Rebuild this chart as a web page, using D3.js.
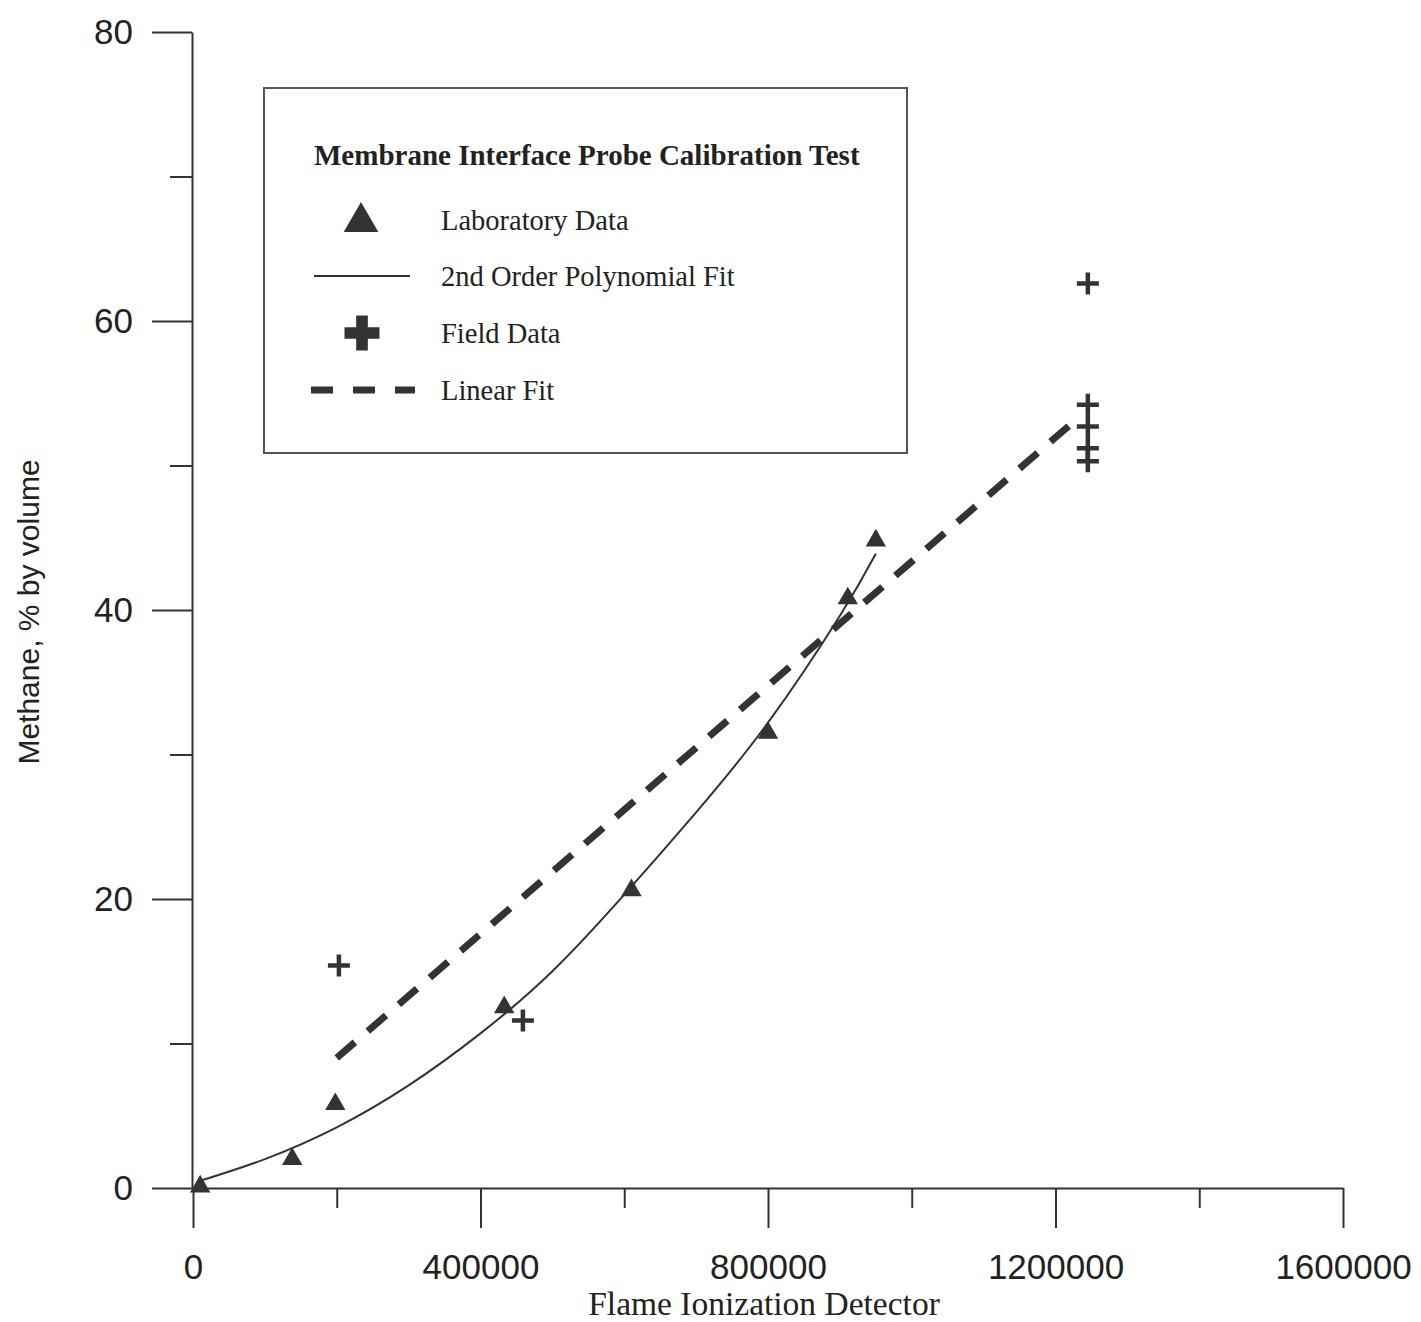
<!DOCTYPE html>
<html>
<head>
<meta charset="utf-8">
<script src="https://cdn.jsdelivr.net/npm/d3@7"></script>
<style>
	body { margin: 0; background: #fff; }
	svg { display: block; }
	.axis path, .axis line { stroke: #333; stroke-width: 2; }
	.axis text { font-family: 'Liberation Sans', Arial, sans-serif; font-size: 35px; fill: #222; }
	.title { font-family: 'Liberation Sans', Arial, sans-serif; font-size: 30px; fill: #222; }
	.xtitle { font-family: 'Liberation Serif', 'Times New Roman', serif; font-size: 33.5px; fill: #222; }
	.legend text { font-family: 'Liberation Serif', 'Times New Roman', serif; font-size: 28.5px; fill: #222; }
	.legend .head { font-weight: bold; font-size: 29px; }
</style>
</head>
<body>
<svg width="1421" height="1322"></svg>
<script>
// laboratory data (triangles)
const labX = [10000, 138000, 198000, 433000, 610000, 800000, 911000, 950000];
const labY = [0.1, 2.0, 5.8, 12.5, 20.6, 31.5, 40.8, 44.8];

// field data (crosses)
const fieldX = [203000, 459000, 1245000, 1245000, 1245000, 1245000, 1245000];
const fieldY = [15.4, 11.6, 62.6, 54.2, 52.7, 51.2, 50.3];

// 2nd order polynomial fit
const polyX = [10000, 100000, 200000, 300000, 400000, 500000, 600000, 700000, 800000, 900000, 950000];
const polyY = [0.5, 2.0, 4.2, 7.1, 10.7, 15.0, 20.3, 26.0, 32.2, 39.6, 43.9];

// linear fit
const linX = [200000, 1220000];
const linY = [9.0, 52.8];

const xMajor = [0, 400000, 800000, 1200000, 1600000];
const xMinor = [200000, 600000, 1000000, 1400000];
const yMajor = [0, 20, 40, 60, 80];
const yMinor = [10, 30, 50, 70];

const legendItems = ['Laboratory Data', '2nd Order Polynomial Fit', 'Field Data', 'Linear Fit'];

const $svg = d3.select('svg');
const INK = '#333';

const x = d3.scaleLinear().domain([0, 1600000]).range([193, 1343]);
const y = d3.scaleLinear().domain([0, 80]).range([1188, 32]);

// axes: major ticks long with labels, minor ticks short
$svg.append('g')
	.attr('class', 'axis')
	.attr('transform', `translate(0,${y(0)})`)
	.call(d3.axisBottom(x).tickValues(xMinor).tickSize(20).tickSizeOuter(0).tickFormat(''))
	.select('.domain').remove();

$svg.append('g')
	.attr('class', 'axis')
	.attr('transform', `translate(0,${y(0)})`)
	.call(d3.axisBottom(x).tickValues(xMajor).tickSize(40).tickSizeOuter(0).tickPadding(26).tickFormat(d3.format('d')));

$svg.append('g')
	.attr('class', 'axis')
	.attr('transform', `translate(${x(0) - 1},0)`)
	.call(d3.axisLeft(y).tickValues(yMinor).tickSize(22).tickSizeOuter(0).tickFormat(''))
	.select('.domain').remove();

$svg.append('g')
	.attr('class', 'axis')
	.attr('transform', `translate(${x(0) - 1},0)`)
	.call(d3.axisLeft(y).tickValues(yMajor).tickSize(40).tickSizeOuter(0).tickPadding(19));

$svg.selectAll('.axis .domain').attr('fill', 'none');

// axis titles
$svg.append('text')
	.attr('class', 'xtitle')
	.attr('x', 764)
	.attr('y', 1315)
	.attr('text-anchor', 'middle')
	.text('Flame Ionization Detector');

$svg.append('text')
	.attr('class', 'title')
	.attr('transform', 'translate(39,612) rotate(-90)')
	.attr('text-anchor', 'middle')
	.text('Methane, % by volume');

// fits
const polyData = polyX.map((d, i) => [d, polyY[i]]);
const linData = linX.map((d, i) => [d, linY[i]]);

$svg.append('path')
	.datum(polyData)
	.attr('d', d3.line().x(d => x(d[0])).y(d => y(d[1])).curve(d3.curveNatural))
	.attr('fill', 'none')
	.attr('stroke', INK)
	.attr('stroke-width', 2);

$svg.append('path')
	.datum(linData)
	.attr('d', d3.line().x(d => x(d[0])).y(d => y(d[1])))
	.attr('fill', 'none')
	.attr('stroke', INK)
	.attr('stroke-width', 7)
	.attr('stroke-dasharray', '24 17');

// laboratory triangles
const tri = d3.symbol(d3.symbolTriangle, 180);
$svg.append('g')
	.selectAll('path')
	.data(labX.map((d, i) => [d, labY[i]]))
	.join('path')
	.attr('d', tri)
	.attr('transform', d => `translate(${x(d[0])},${y(d[1])})`)
	.attr('fill', INK);

// field crosses
const CROSS = 11;
$svg.append('g')
	.selectAll('path')
	.data(fieldX.map((d, i) => [d, fieldY[i]]))
	.join('path')
	.attr('d', d => {
		const cx = x(d[0]), cy = y(d[1]);
		return `M${cx - CROSS},${cy}H${cx + CROSS}M${cx},${cy - CROSS}V${cy + CROSS}`;
	})
	.attr('stroke', INK)
	.attr('stroke-width', 4.5);

// legend
const $legend = $svg.append('g').attr('class', 'legend');

$legend.append('rect')
	.attr('x', 264)
	.attr('y', 88)
	.attr('width', 643)
	.attr('height', 365)
	.attr('fill', 'none')
	.attr('stroke', '#555')
	.attr('stroke-width', 2);

$legend.append('text')
	.attr('class', 'head')
	.attr('x', 314)
	.attr('y', 155)
	.attr('dy', '0.35em')
	.text('Membrane Interface Probe Calibration Test');

const rowY = [220, 276, 333, 390];

$legend.selectAll('text.item')
	.data(legendItems)
	.join('text')
	.attr('class', 'item')
	.attr('x', 441)
	.attr('y', (d, i) => rowY[i])
	.attr('dy', '0.35em')
	.text(d => d);

$legend.append('path')
	.attr('d', d3.symbol(d3.symbolTriangle, 520))
	.attr('transform', `translate(361,${rowY[0] + 2})`)
	.attr('fill', INK);

$legend.append('line')
	.attr('x1', 314).attr('x2', 410)
	.attr('y1', rowY[1]).attr('y2', rowY[1])
	.attr('stroke', INK)
	.attr('stroke-width', 2);

$legend.append('path')
	.attr('d', d3.symbol(d3.symbolCross, 680))
	.attr('transform', `translate(362,${rowY[2]})`)
	.attr('fill', INK);

$legend.append('line')
	.attr('x1', 311).attr('x2', 415)
	.attr('y1', rowY[3]).attr('y2', rowY[3])
	.attr('stroke', INK)
	.attr('stroke-width', 7)
	.attr('stroke-dasharray', '22 20');
</script>
</body>
</html>
